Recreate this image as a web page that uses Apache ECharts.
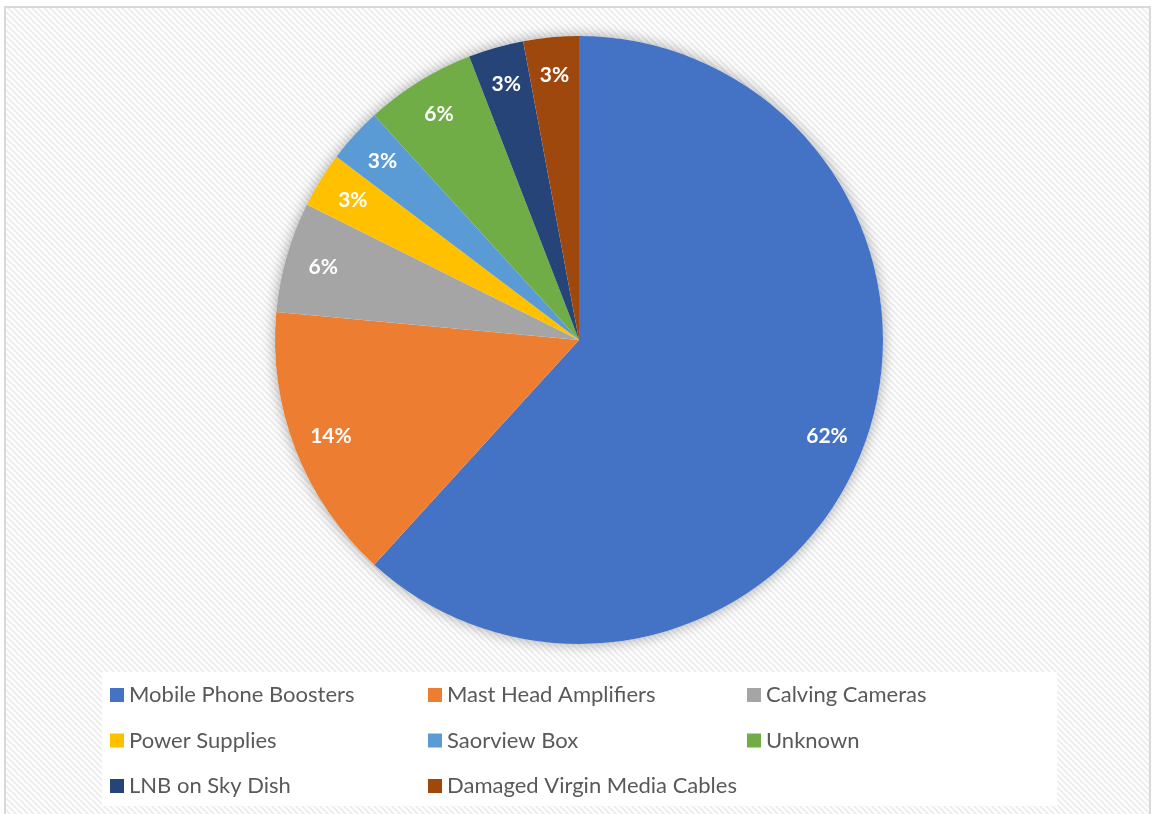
<!DOCTYPE html>
<html>
<head>
<meta charset="utf-8">
<script src="https://cdn.jsdelivr.net/npm/echarts@6/dist/echarts.min.js"></script>
<style>
  html, body { margin: 0; padding: 0; background: #fff; }
  #chart { width: 1153px; height: 814px; }
</style>
</head>
<body>
<div id="chart"></div>
<script>
// data
var categories = [
  "Mobile Phone Boosters", "Mast Head Amplifiers", "Calving Cameras",
  "Power Supplies", "Saorview Box", "Unknown",
  "LNB on Sky Dish", "Damaged Virgin Media Cables"
];
var counts = [21, 5, 2, 1, 1, 2, 1, 1];
var colors = ["#4472c4", "#ed7d31", "#a5a5a5", "#ffc000", "#5b9bd5", "#70ad47", "#264478", "#9e480e"];
// legend columns (index into categories)
var legendCols = [[0, 3, 6], [1, 4, 7], [2, 5]];
var legendLeft = [110, 428, 747];

// hatched background tile
var tile = document.createElement("canvas");
tile.width = 6; tile.height = 6;
var ctx = tile.getContext("2d");
ctx.fillStyle = "#ffffff";
ctx.fillRect(0, 0, 6, 6);
ctx.strokeStyle = "#eeeeee";
ctx.lineWidth = 2;
for (var k = -1; k <= 1; k++) {
  ctx.beginPath();
  ctx.moveTo(-1, -1 + k * 6);
  ctx.lineTo(7, 7 + k * 6);
  ctx.stroke();
}

var chart = echarts.init(document.getElementById("chart"));

var pieData = categories.map(function (name, i) {
  return { name: name, value: counts[i], itemStyle: { color: colors[i] } };
});

var legends = legendCols.map(function (col, c) {
  return {
    orient: "vertical",
    left: legendLeft[c],
    top: 683,
    padding: 0,
    itemWidth: 14,
    itemHeight: 14,
    itemGap: 21.5,
    icon: "rect",
    selectedMode: false,
    textStyle: { fontFamily: "Lato", fontSize: 22, color: "#595959", lineHeight: 24 },
    data: col.map(function (i) { return categories[i]; })
  };
});

chart.setOption({
  animation: false,
  backgroundColor: "#ffffff",
  graphic: [
    {
      type: "rect", z: -10, silent: true,
      shape: { x: 5, y: 7, width: 1145, height: 820 },
      style: { fill: { image: tile, repeat: "repeat" }, stroke: "#d9d9d9", lineWidth: 2 }
    },
    {
      type: "rect", z: -9, silent: true,
      shape: { x: 102, y: 672, width: 955, height: 134 },
      style: { fill: "#ffffff" }
    }
  ],
  legend: legends,
  series: [
    {
      // shadow disc under the pie
      type: "pie", silent: true, z: 1,
      center: [579, 340], radius: 304,
      label: { show: false }, labelLine: { show: false },
      itemStyle: { color: "#ffffff", shadowBlur: 14, shadowColor: "rgba(0,0,0,0.35)" },
      data: [{ name: "", value: 1 }]
    },
    {
      type: "pie", z: 2,
      center: [579, 340], radius: 304,
      startAngle: 90, clockwise: true,
      label: { show: false }, labelLine: { show: false },
      emphasis: { disabled: true },
      itemStyle: { borderWidth: 0 },
      data: pieData
    },
    {
      // transparent ring carrying the percentage labels
      type: "pie", silent: true, z: 3,
      center: [579, 340], radius: [222, 304],
      startAngle: 90, clockwise: true,
      percentPrecision: 0,
      itemStyle: { color: "rgba(0,0,0,0)", borderWidth: 0 },
      emphasis: { disabled: true },
      labelLine: { show: false },
      label: {
        show: true, position: "inside", formatter: "{d}%",
        color: "#ffffff", fontFamily: "Lato", fontWeight: "bold", fontSize: 21
      },
      data: categories.map(function (name, i) { return { name: name, value: counts[i] }; })
    }
  ]
});
</script>
</body>
</html>
